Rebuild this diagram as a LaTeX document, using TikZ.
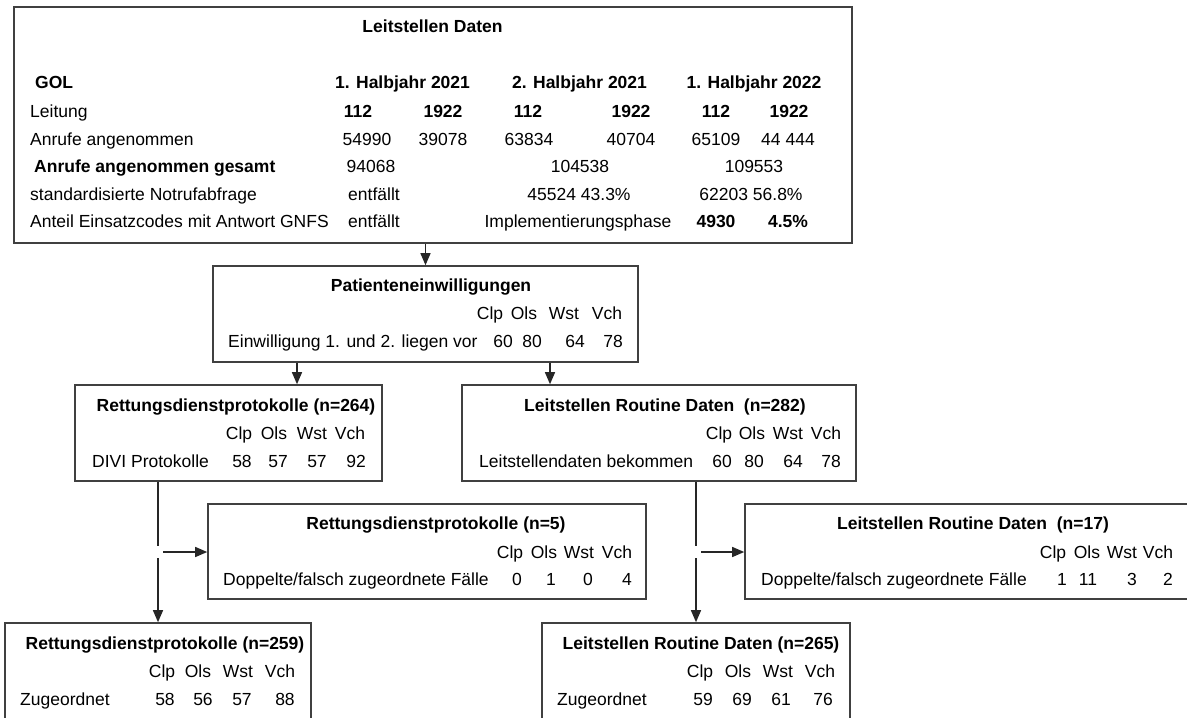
\documentclass[tikz,border=0pt]{standalone}
\usepackage{fontspec}
\setmainfont{Liberation Sans}
\usetikzlibrary{arrows.meta}
\newcommand{\linecolor}{black!75}
\newcommand{\sizefont}{\fontsize{17.5}{21}\selectfont}
\newcommand{\gap}{6pt}

\tikzset{
  box/.style={draw=\linecolor, line width=1.6pt, rectangle, inner sep=0pt},
  txt/.style={inner sep=0pt, anchor=base},
  lab/.style={inner sep=0pt, anchor=base west},
  bold/.style={font=\sizefont\bfseries},
  line/.style={draw=black!85, line width=1.3pt},
  arr/.style={line, -{Triangle[length=12pt,width=10pt]}}
}

\begin{document}
\begin{tikzpicture}[x=1pt, y=-1pt, font=\sizefont]
\useasboundingbox (0,0) rectangle (1187,718);
%boxes
\node[box, minimum width=838, minimum height=236] (leit) at (433,125) {};
\node[box, minimum width=425, minimum height=96] (pat) at (425.5,314) {};
\node[box, minimum width=307, minimum height=96] (rd1) at (228.5,433) {};
\node[box, minimum width=394, minimum height=96] (ls1) at (659,433) {};
\node[box, minimum width=438, minimum height=95] (rd2) at (427,551.5) {};
\node[box, minimum width=450, minimum height=95] (ls2) at (970,551.5) {};
\node[box, minimum width=306, minimum height=107] (rd3) at (158,676.5) {};
\node[box, minimum width=308, minimum height=107] (ls3) at (696,676.5) {};
%leitstelle
\node[txt, bold] (leit-t) at (432.5,32) {Leitstellen Daten};
\node[lab, bold] (gol) at (35,88) {GOL};
\node[txt, bold] (hj1) at (402.5,88) {1. Halbjahr 2021};
\node[txt, bold] (hj2) at (579.5,88) {2. Halbjahr 2021};
\node[txt, bold] (hj3) at (754,88) {1. Halbjahr 2022};
\node[lab] (ltg) at (30,117) {Leitung};
\node[txt, bold] (ltg1) at (358,117) {112};
\node[txt, bold] (ltg2) at (443,117) {1922};
\node[txt, bold] (ltg3) at (528,117) {112};
\node[txt, bold] (ltg4) at (631,117) {1922};
\node[txt, bold] (ltg5) at (716,117) {112};
\node[txt, bold] (ltg6) at (789,117) {1922};
\node[lab] (anr) at (30,145) {Anrufe angenommen};
\node[txt] (anr1) at (367,145) {54990};
\node[txt] (anr2) at (443,145) {39078};
\node[txt] (anr3) at (529,145) {63834};
\node[txt] (anr4) at (631,145) {40704};
\node[txt] (anr5) at (716,145) {65109};
\node[txt] (anr6) at (788,145) {44 444};
\node[lab, bold] (ges) at (34,172) {Anrufe angenommen gesamt};
\node[txt] (ges1) at (371,172) {94068};
\node[txt] (ges2) at (580,172) {104538};
\node[txt] (ges3) at (754,172) {109553};
\node[lab] (not) at (30,200) {standardisierte Notrufabfrage};
\node[txt] (not1) at (374,200) {entfällt};
\node[txt] (not2) at (579,200) {45524 43.3\%};
\node[txt] (not3) at (751,200) {62203 56.8\%};
\node[lab] (gnfs) at (30,227) {Anteil Einsatzcodes mit Antwort GNFS};
\node[txt] (gnfs1) at (374,227) {entfällt};
\node[txt] (gnfs2) at (578,227) {Implementierungsphase};
\node[txt, bold] (gnfs3) at (716,227) {4930};
\node[txt, bold] (gnfs4) at (788,227) {4.5\%};
%patienten
\node[txt, bold] (pat-t) at (431,291) {Patienteneinwilligungen};
\node[txt] (pat-c1) at (490,319) {Clp};
\node[txt] (pat-c2) at (524,319) {Ols};
\node[txt] (pat-c3) at (564,319) {Wst};
\node[txt] (pat-c4) at (607,319) {Vch};
\node[lab] (pat-l) at (228,347) {Einwilligung 1. und 2. liegen vor};
\node[txt] (pat-n1) at (503,347) {60};
\node[txt] (pat-n2) at (532,347) {80};
\node[txt] (pat-n3) at (575,347) {64};
\node[txt] (pat-n4) at (613,347) {78};
%rd 264
\node[txt, bold] (rd1-t) at (236,411) {Rettungsdienstprotokolle (n=264)};
\node[txt] (rd1-c1) at (239,439) {Clp};
\node[txt] (rd1-c2) at (274,439) {Ols};
\node[txt] (rd1-c3) at (312,439) {Wst};
\node[txt] (rd1-c4) at (350,439) {Vch};
\node[lab] (rd1-l) at (92,467) {DIVI Protokolle};
\node[txt] (rd1-n1) at (242,467) {58};
\node[txt] (rd1-n2) at (278,467) {57};
\node[txt] (rd1-n3) at (317,467) {57};
\node[txt] (rd1-n4) at (356,467) {92};
%ls 282
\node[txt, bold] (ls1-t) at (665,411) {Leitstellen Routine Daten\ \ (n=282)};
\node[txt] (ls1-c1) at (719,439) {Clp};
\node[txt] (ls1-c2) at (752,439) {Ols};
\node[txt] (ls1-c3) at (788,439) {Wst};
\node[txt] (ls1-c4) at (826,439) {Vch};
\node[lab] (ls1-l) at (479,467) {Leitstellendaten bekommen};
\node[txt] (ls1-n1) at (722,467) {60};
\node[txt] (ls1-n2) at (754,467) {80};
\node[txt] (ls1-n3) at (793,467) {64};
\node[txt] (ls1-n4) at (831,467) {78};
%rd 5
\node[txt, bold] (rd2-t) at (436,529) {Rettungsdienstprotokolle (n=5)};
\node[txt] (rd2-c1) at (510,558) {Clp};
\node[txt] (rd2-c2) at (544,558) {Ols};
\node[txt] (rd2-c3) at (579,558) {Wst};
\node[txt] (rd2-c4) at (617,558) {Vch};
\node[lab] (rd2-l) at (223,585) {Doppelte/falsch zugeordnete Fälle};
\node[txt] (rd2-n1) at (517,585) {0};
\node[txt] (rd2-n2) at (551,585) {1};
\node[txt] (rd2-n3) at (588,585) {0};
\node[txt] (rd2-n4) at (627,585) {4};
%ls 17
\node[txt, bold] (ls2-t) at (973,529) {Leitstellen Routine Daten\ \ (n=17)};
\node[txt] (ls2-c1) at (1053,558) {Clp};
\node[txt] (ls2-c2) at (1087,558) {Ols};
\node[txt] (ls2-c3) at (1122,558) {Wst};
\node[txt] (ls2-c4) at (1158,558) {Vch};
\node[lab] (ls2-l) at (761,585) {Doppelte/falsch zugeordnete Fälle};
\node[txt] (ls2-n1) at (1062,585) {1};
\node[txt] (ls2-n2) at (1088,585) {11};
\node[txt] (ls2-n3) at (1132,585) {3};
\node[txt] (ls2-n4) at (1168,585) {2};
%rd 259
\node[txt, bold] (rd3-t) at (165,649) {Rettungsdienstprotokolle (n=259)};
\node[txt] (rd3-c1) at (162,677) {Clp};
\node[txt] (rd3-c2) at (198,677) {Ols};
\node[txt] (rd3-c3) at (238,677) {Wst};
\node[txt] (rd3-c4) at (280,677) {Vch};
\node[lab] (rd3-l) at (20,705) {Zugeordnet};
\node[txt] (rd3-n1) at (165,705) {58};
\node[txt] (rd3-n2) at (203,705) {56};
\node[txt] (rd3-n3) at (242,705) {57};
\node[txt] (rd3-n4) at (285,705) {88};
%ls 265
\node[txt, bold] (ls3-t) at (701,649) {Leitstellen Routine Daten (n=265)};
\node[txt] (ls3-c1) at (700,677) {Clp};
\node[txt] (ls3-c2) at (738,677) {Ols};
\node[txt] (ls3-c3) at (778,677) {Wst};
\node[txt] (ls3-c4) at (820,677) {Vch};
\node[lab] (ls3-l) at (557,705) {Zugeordnet};
\node[txt] (ls3-n1) at (703,705) {59};
\node[txt] (ls3-n2) at (742,705) {69};
\node[txt] (ls3-n3) at (781,705) {61};
\node[txt] (ls3-n4) at (823,705) {76};
%connectors
\coordinate (k1) at (297,0);
\coordinate (k2) at (550,0);
\coordinate (j1) at (158,552);
\coordinate (j2) at (696,552);
\draw[arr] (leit.south -| pat.north) -- (pat.north);
\draw[arr] (pat.south -| k1) -- (rd1.north -| k1);
\draw[arr] (pat.south -| k2) -- (ls1.north -| k2);
\draw[line] (rd1.south -| j1) -- ([yshift=\gap]j1);
\draw[arr] ([yshift=-\gap]j1) -- (rd3.north -| j1);
\draw[arr] ([xshift=5pt]j1) -- (rd2.west |- j1);
\draw[line] (ls1.south -| j2) -- ([yshift=\gap]j2);
\draw[arr] ([yshift=-\gap]j2) -- (ls3.north -| j2);
\draw[arr] ([xshift=5pt]j2) -- (ls2.west |- j2);
\end{tikzpicture}
\end{document}
